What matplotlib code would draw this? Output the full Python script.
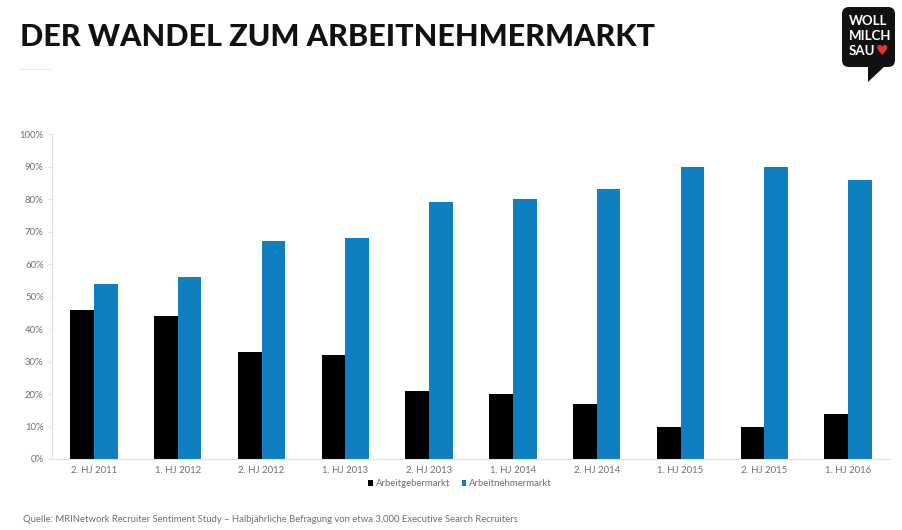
import matplotlib
matplotlib.use('Agg')
import matplotlib.pyplot as plt
import matplotlib.patches as patches
from matplotlib.path import Path
import numpy as np

categories = ['2. HJ 2011', '1. HJ 2012', '2. HJ 2012', '1. HJ 2013', '2. HJ 2013',
              '1. HJ 2014', '2. HJ 2014', '1. HJ 2015', '2. HJ 2015', '1. HJ 2016']
arbeitgeber = [46, 44, 33, 32, 21, 20, 17, 10, 10, 14]
arbeitnehmer = [54, 56, 67, 68, 79, 80, 83, 90, 90, 86]
yticks = list(range(0, 101, 10))

plt.rcParams['font.family'] = ['Lato', 'DejaVu Sans']
W, H = 902, 530
GREY = '#6f6f6f'
fig = plt.figure(figsize=(W / 100, H / 100), dpi=100)

ax = fig.add_axes([52 / W, 1 - 459 / H, (890 - 52) / W, (459 - 134) / H])
x = np.arange(len(categories))
ax.bar(x - 0.142, arbeitgeber, 0.284, color='black', label='Arbeitgebermarkt')
ax.bar(x + 0.142, arbeitnehmer, 0.284, color='#0f7fc1', label='Arbeitnehmermarkt')
ax.set_xlim(-0.5, 9.5)
ax.set_ylim(0, 100)
ax.set_xticks(x, categories)
ax.set_yticks(yticks, [f'{v}%' for v in yticks])
ax.tick_params(axis='both', labelsize=6.9, colors=GREY, length=0, pad=5)
ax.tick_params(axis='y', length=3, color='#e2e2e2', pad=3)
for side in ['top', 'right']:
    ax.spines[side].set_visible(False)
for side in ['left', 'bottom']:
    ax.spines[side].set_color('#e2e2e2')
    ax.spines[side].set_linewidth(0.8)

ax.legend(loc='upper center', bbox_to_anchor=(0.487, -0.048), ncol=2, frameon=False,
          fontsize=6.9, labelcolor=GREY, handlelength=0.5, handleheight=0.5,
          handletextpad=0.3, columnspacing=1.2, borderpad=0)

fig.text(20 / W, 1 - 37 / H, 'DER WANDEL ZUM ARBEITNEHMERMARKT', fontsize=22,
         fontweight='black', color='#111111', va='center', ha='left')
fig.add_artist(plt.Line2D([20 / W, 50 / W], [1 - 69 / H, 1 - 69 / H], color='#e8e8e8', lw=0.8))
fig.text(23 / W, 1 - 519 / H,
         'Quelle: MRINetwork Recruiter Sentiment Study \u2013 Halbj\u00e4hrliche Befragung von etwa 3,000 Executive Search Recruiters',
         fontsize=6.83, color=GREY, va='center', ha='left')

# logo speech bubble, pixel coordinates
logo = fig.add_axes([0, 0, 1, 1], facecolor='none')
logo.set_xlim(0, W)
logo.set_ylim(H, 0)
logo.axis('off')
logo.add_patch(patches.FancyBboxPatch((842, 7), 53, 60, boxstyle='round,pad=0,rounding_size=7',
                                      facecolor='#111111', edgecolor='none'))
logo.add_patch(patches.PathPatch(Path([(868, 65), (868, 82), (886, 65)]), facecolor='#111111', edgecolor='none'))
for yy, word in zip([21, 36, 51], ['WOLL', 'MILCH', 'SAU']):
    logo.text(849, yy, word, color='white', fontsize=9.5, fontweight='bold', va='center', ha='left')
logo.text(882, 51, '\u2665', color='#e0352b', fontsize=10, va='center', ha='center', family='DejaVu Sans')

fig.savefig('out.png', dpi=100)
